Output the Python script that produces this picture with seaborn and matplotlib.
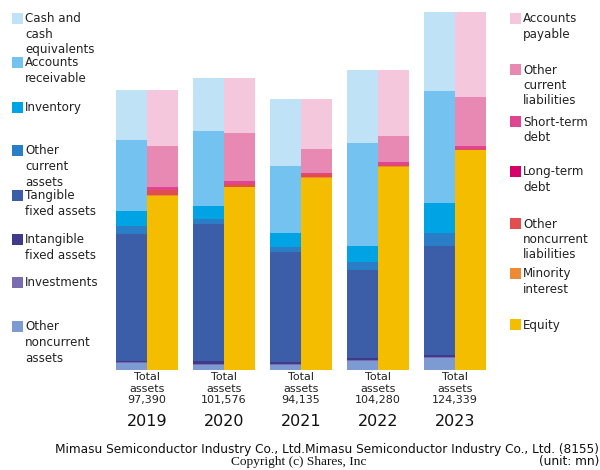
import matplotlib
matplotlib.use("Agg")
import matplotlib.pyplot as plt
import seaborn as sns
import pandas as pd
import numpy as np
from matplotlib.patches import Rectangle

years = ["2019", "2020", "2021", "2022", "2023"]
total_assets = [97390, 101576, 94135, 104280, 124339]

# Assets (bottom to top)
other_noncurrent_assets = [2300, 1620, 1850, 3120, 4280]
investments = [350, 350, 230, 350, 350]
intangible_fixed_assets = [450, 1160, 800, 690, 700]
tangible_fixed_assets = [44000, 47420, 38200, 30450, 37630]
other_current_assets = [3000, 1970, 1740, 2780, 4520]
inventory = [5100, 4400, 4860, 5560, 10420]
accounts_receivable = [24600, 26160, 23150, 36000, 38900]
cash_and_equivalents = [17590, 18496, 23305, 25330, 27539]

# Liabilities & equity (bottom to top)
equity = [60500, 63560, 66620, 70550, 76340]
minority_interest = [230, 150, 300, 200, 150]
other_noncurrent_liabilities = [1620, 800, 1000, 500, 200]
long_term_debt = [0, 0, 0, 0, 0]
short_term_debt = [1150, 1160, 550, 930, 1270]
other_current_liabilities = [14230, 16670, 8330, 9020, 16900]
accounts_payable = [19660, 19236, 17335, 23080, 29479]

asset_names = ["Other\nnoncurrent\nassets", "Investments", "Intangible\nfixed assets",
               "Tangible\nfixed assets", "Other\ncurrent\nassets", "Inventory",
               "Accounts\nreceivable", "Cash and\ncash\nequivalents"]
asset_values = [other_noncurrent_assets, investments, intangible_fixed_assets,
                tangible_fixed_assets, other_current_assets, inventory,
                accounts_receivable, cash_and_equivalents]
asset_colors = ["#7b9bd2", "#7b6baf", "#3f3a8a", "#3c5ea8", "#2a7ec8", "#00a3e4",
                "#73c2ef", "#c0e2f7"]

liab_names = ["Equity", "Minority\ninterest", "Other\nnoncurrent\nliabilities",
              "Long-term\ndebt", "Short-term\ndebt", "Other\ncurrent\nliabilities",
              "Accounts\npayable"]
liab_values = [equity, minority_interest, other_noncurrent_liabilities, long_term_debt,
               short_term_debt, other_current_liabilities, accounts_payable]
liab_colors = ["#f4bd00", "#ec8a35", "#e04e50", "#d6006b", "#df4590", "#e889b4",
               "#f4c7dc"]

sns.set_theme(style="white")
plt.rcParams["font.family"] = ["DejaVu Sans"]

W, H = 600, 470
fig = plt.figure(figsize=(6, 4.7), dpi=100)
spacing = 77.0
left_px = 147 - 0.5 * spacing
base_px = 370
top_px = 12
ymax = max(total_assets)
ax = fig.add_axes([left_px / W, (H - base_px) / H, 5 * spacing / W, (base_px - top_px) / H])

def draw_side(side, names, values, colors):
    cums = np.cumsum(np.array(values, dtype=float), axis=0)
    for i in range(len(names) - 1, -1, -1):
        df = pd.DataFrame({"year": years, "value": cums[i], "side": side})
        sns.barplot(data=df, x="year", y="value", hue="side", hue_order=["A", "L"],
                    order=years, palette={"A": colors[i], "L": colors[i]},
                    dodge=True, width=0.805, saturation=1, linewidth=0,
                    errorbar=None, legend=False, ax=ax)

draw_side("A", asset_names, asset_values, asset_colors)
draw_side("L", liab_names, liab_values, liab_colors)

ax.set_xlim(-0.5, 4.5)
ax.set_ylim(0, ymax)
ax.set_axis_off()

# x labels
for i, y in enumerate(years):
    xf = (147 + i * spacing) / W
    fig.text(xf, 1 - 372 / H, "Total\nassets\n{:,}".format(total_assets[i]), ha="center",
             va="top", fontsize=8, linespacing=1.2, color="#222222")
    fig.text(xf, 1 - 421 / H, y, ha="center", va="center", fontsize=11.5, color="#111111")

# legends
def legend(xsq, tops, names, colors):
    for t, n, c in zip(tops, names, colors):
        fig.patches.append(Rectangle((xsq / W, 1 - (t + 11) / H), 11 / W, 11 / H,
                                     transform=fig.transFigure, color=c, lw=0))
        fig.text((xsq + 13) / W, 1 - (t - 0.5) / H, n, ha="left", va="top",
                 fontsize=8.6, linespacing=1.25, color="#222222")

left_tops = [13, 57, 102, 145, 190, 234, 277, 321]
legend(12, left_tops, asset_names[::-1], asset_colors[::-1])
right_tops = [13, 64, 116, 166, 218, 268, 319]
legend(510, right_tops, liab_names[::-1], liab_colors[::-1])

fig.text(599 / W, 1 - 449 / H,
         "Mimasu Semiconductor Industry Co., Ltd.Mimasu Semiconductor Industry Co., Ltd. (8155)",
         ha="right", va="center", fontsize=8.7, color="#111111")
fig.text(299 / W, 1 - 462 / H, "Copyright (c) Shares, Inc", ha="center", va="center",
         fontsize=9.6, family=["Liberation Serif"], color="#111111")
fig.text(599 / W, 1 - 462 / H, "(unit: mn)", ha="right", va="center", fontsize=8.7,
         color="#111111")

fig.savefig("out.png", dpi=100)
